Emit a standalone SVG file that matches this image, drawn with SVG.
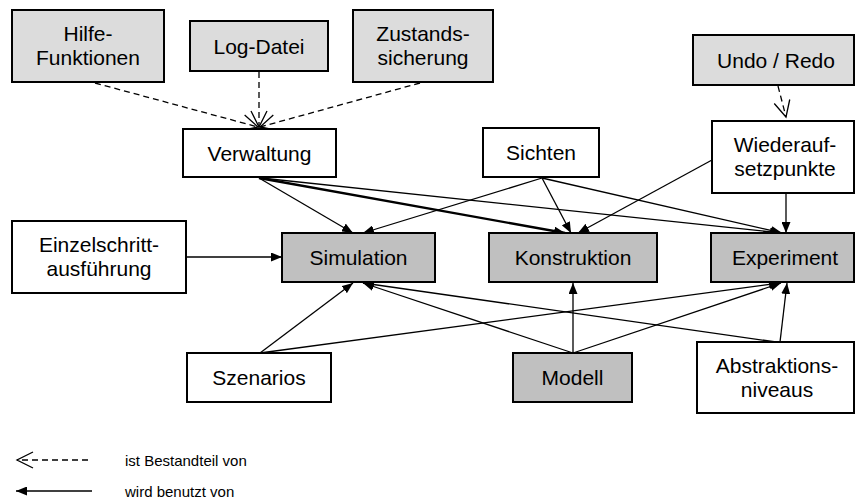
<svg xmlns="http://www.w3.org/2000/svg" width="855" height="502" viewBox="0 0 855 502">
  <style>
    .box { stroke: #000; stroke-width: 2; }
    .part { fill: #dcdcdc; }
    .core { fill: #c0c0c0; }
    .plain { fill: #fff; }
    .lbl { font-family: "Liberation Sans", Arial, sans-serif; font-size: 21px; fill: #000; text-anchor: middle; }
    .legend { font-family: "Liberation Sans", Arial, sans-serif; font-size: 15px; fill: #000; }
    .uses { stroke: #000; stroke-width: 1.3; fill: none; marker-end: url(#solidHead); }
    .uses-bold { stroke: #000; stroke-width: 2.4; fill: none; marker-end: url(#solidHead); }
    .partof { stroke: #000; stroke-width: 1.3; fill: none; stroke-dasharray: 6 4; marker-end: url(#openHead); }
  </style>
  <defs>
    <marker id="solidHead" markerUnits="userSpaceOnUse" viewBox="0 0 11 9" refX="11" refY="4.5" markerWidth="11" markerHeight="9" orient="auto">
      <path d="M0,0 L11,4.5 L0,9 z" fill="#000"/>
    </marker>
    <marker id="openHead" markerUnits="userSpaceOnUse" viewBox="-1 -1 19 18" refX="16" refY="8" markerWidth="19" markerHeight="18" orient="auto">
      <path d="M0,0 L16,8 L0,16" fill="none" stroke="#000" stroke-width="1.3"/>
    </marker>
  </defs>

  <rect width="855" height="502" fill="#fff"/>

  <!-- connectors -->
  <g id="connectors">
    <!-- ist Bestandteil von -->
    <line class="partof" x1="95" y1="83" x2="258" y2="127"/>
    <line class="partof" x1="259" y1="72" x2="259" y2="127"/>
    <line class="partof" x1="420" y1="83" x2="260" y2="127"/>
    <line class="partof" x1="778" y1="86" x2="786" y2="117"/>
    <!-- wird benutzt von -->
    <line class="uses" x1="259" y1="178" x2="353" y2="233"/>
    <line class="uses-bold" x1="259" y1="178" x2="565" y2="233"/>
    <line class="uses" x1="261" y1="178" x2="781" y2="233"/>
    <line class="uses" x1="542" y1="178" x2="363" y2="233"/>
    <line class="uses" x1="542" y1="178" x2="571" y2="233"/>
    <line class="uses" x1="542" y1="178" x2="782" y2="233"/>
    <line class="uses" x1="712" y1="160" x2="578" y2="233"/>
    <line class="uses" x1="786" y1="194" x2="786" y2="233"/>
    <line class="uses" x1="187" y1="257" x2="282" y2="257"/>
    <line class="uses" x1="260" y1="353" x2="353" y2="283"/>
    <line class="uses" x1="260" y1="353" x2="780" y2="283"/>
    <line class="uses" x1="573" y1="353" x2="573" y2="283"/>
    <line class="uses" x1="573" y1="353" x2="363" y2="283"/>
    <line class="uses" x1="573" y1="353" x2="781" y2="283"/>
    <line class="uses" x1="776" y1="342" x2="363" y2="283"/>
    <line class="uses" x1="780" y1="342" x2="787" y2="283"/>
  </g>

  <!-- components -->
  <g id="hilfe">
    <rect class="box part" x="12" y="10" width="152" height="72"/>
    <text class="lbl" x="88" y="41">Hilfe-</text>
    <text class="lbl" x="88" y="65">Funktionen</text>
  </g>
  <g id="logdatei">
    <rect class="box part" x="190" y="21" width="138" height="50"/>
    <text class="lbl" x="259" y="53.5">Log-Datei</text>
  </g>
  <g id="zustand">
    <rect class="box part" x="353" y="10" width="140" height="72"/>
    <text class="lbl" x="423" y="41">Zustands-</text>
    <text class="lbl" x="423" y="65">sicherung</text>
  </g>
  <g id="undo">
    <rect class="box part" x="693" y="35" width="161" height="50"/>
    <text class="lbl" x="776" y="67.5">Undo / Redo</text>
  </g>
  <g id="verwaltung">
    <rect class="box plain" x="183" y="129" width="153" height="48"/>
    <text class="lbl" x="259.5" y="160.5">Verwaltung</text>
  </g>
  <g id="sichten">
    <rect class="box plain" x="483" y="128" width="116" height="49"/>
    <text class="lbl" x="541" y="160">Sichten</text>
  </g>
  <g id="wiederauf">
    <rect class="box plain" x="712" y="121" width="142" height="72"/>
    <text class="lbl" x="785" y="152">Wiederauf-</text>
    <text class="lbl" x="785" y="176">setzpunkte</text>
  </g>
  <g id="einzelschritt">
    <rect class="box plain" x="12" y="221" width="174" height="72"/>
    <text class="lbl" x="99" y="252">Einzelschritt-</text>
    <text class="lbl" x="99" y="276">ausführung</text>
  </g>
  <g id="simulation">
    <rect class="box core" x="282" y="233" width="153" height="49"/>
    <text class="lbl" x="358.5" y="265">Simulation</text>
  </g>
  <g id="konstruktion">
    <rect class="box core" x="489" y="233" width="168" height="49"/>
    <text class="lbl" x="573" y="265">Konstruktion</text>
  </g>
  <g id="experiment">
    <rect class="box core" x="711" y="233" width="143" height="49"/>
    <text class="lbl" x="785" y="265">Experiment</text>
  </g>
  <g id="szenarios">
    <rect class="box plain" x="187" y="353" width="144" height="49"/>
    <text class="lbl" x="259" y="385">Szenarios</text>
  </g>
  <g id="modell">
    <rect class="box core" x="513" y="353" width="119" height="49"/>
    <text class="lbl" x="572.5" y="385">Modell</text>
  </g>
  <g id="abstraktion">
    <rect class="box plain" x="697" y="342" width="157" height="71"/>
    <text class="lbl" x="777" y="373">Abstraktions-</text>
    <text class="lbl" x="777" y="397">niveaus</text>
  </g>

  <!-- legend -->
  <g id="legend">
    <line class="partof" x1="88" y1="460" x2="17" y2="460"/>
    <text class="legend" x="125" y="466">ist Bestandteil von</text>
    <line class="uses" x1="92" y1="491" x2="16" y2="491"/>
    <text class="legend" x="125" y="497">wird benutzt von</text>
  </g>
</svg>
